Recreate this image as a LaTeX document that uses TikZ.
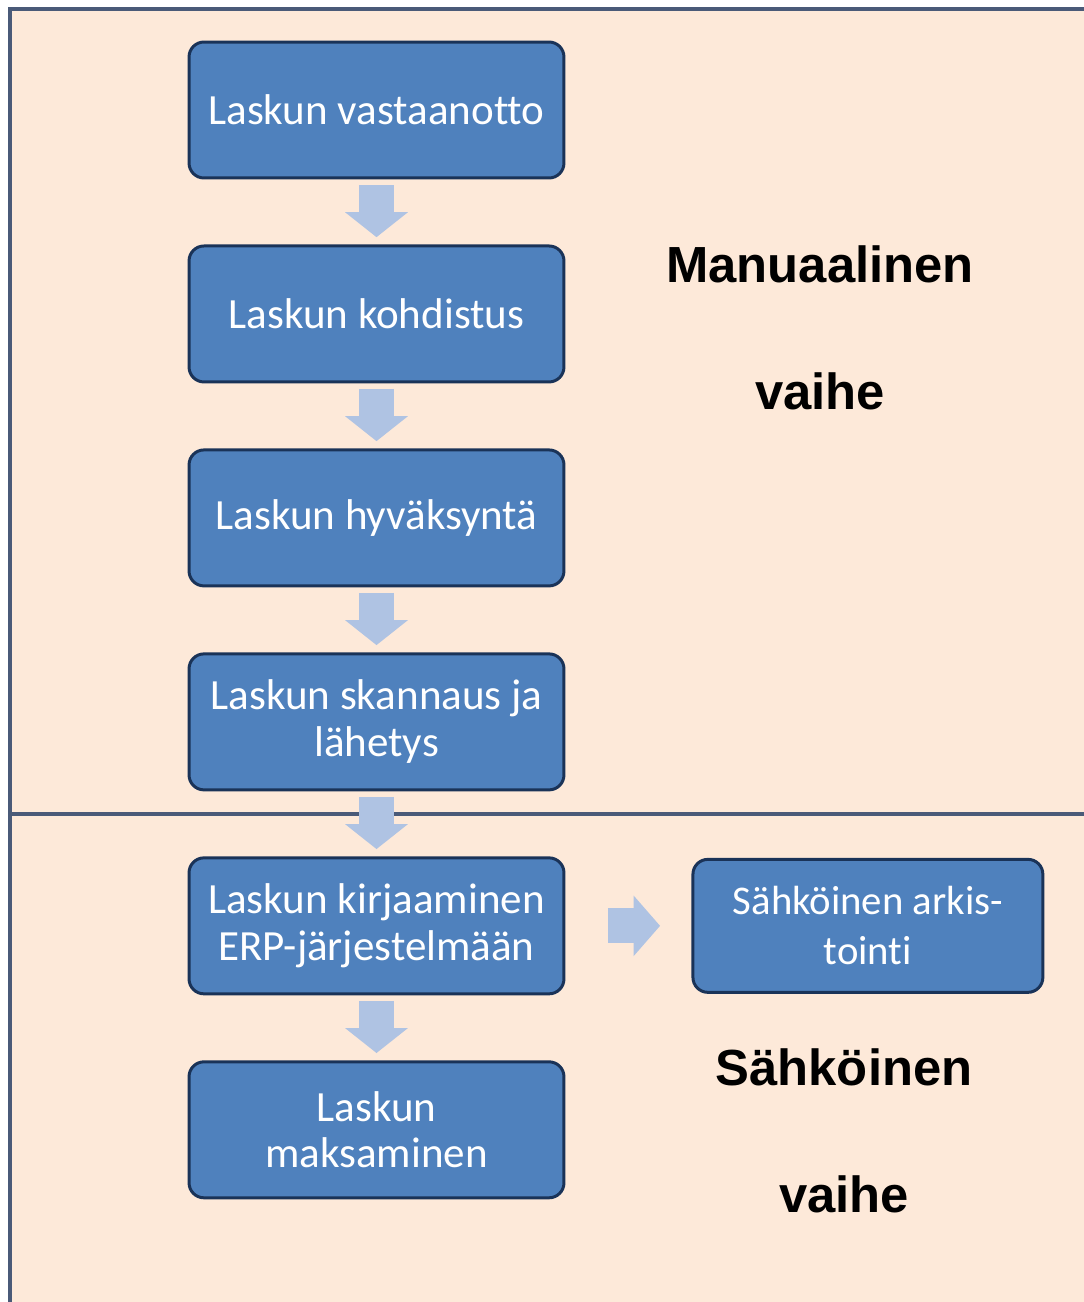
\documentclass[tikz,border=0pt]{standalone}
\usepackage{fontspec}
\setmainfont{Carlito}[Ligatures=NoCommon]
\newfontfamily\phasefont{Liberation Sans}
\usepackage{tikz}
\usetikzlibrary{positioning,arrows.meta}

\definecolor{peach}{HTML}{FDE9D9}
\definecolor{frameline}{HTML}{4A5A78}
\definecolor{boxblue}{HTML}{4F81BD}
\definecolor{boxline}{HTML}{1A3358}
\definecolor{arrowblue}{HTML}{AFC3E3}

\begin{document}
\begin{tikzpicture}[x=0.02cm,y=-0.02cm,
    stepbox/.style={draw=boxline,fill=boxblue,line width=1.7pt,rounded corners=8.5pt,
      minimum width=7.5cm,minimum height=2.72cm,align=center,text=white,
      outer sep=0pt,font=\fontsize{24.5}{26.6}\selectfont},
    flow/.style={draw=arrowblue,line width=20.4pt,
      -{Triangle[width=35pt,length=14.2pt]}},
    phase/.style={font=\phasefont\bfseries\fontsize{28.9}{72}\selectfont,align=center},
    node distance=1.36cm]
    \useasboundingbox (0,0) rectangle (1083,1302);

    % background and phase divider
    \fill[peach] (10,9) rectangle (1090,1310);
    \draw[frameline,line width=2.3pt] (10,1310) -- (10,9) -- (1090,9);
    \draw[frameline,line width=2.3pt] (10,814) -- (1090,814);

    \node[stepbox] (vastaanotto) at (376.5,110) {Laskun vastaanotto};
    \node[stepbox,below=of vastaanotto] (kohdistus) {Laskun kohdistus};
    \node[stepbox,below=of kohdistus] (hyvaksynta) {Laskun hyväksyntä};
    \node[stepbox,below=of hyvaksynta] (skannaus) {Laskun skannaus ja\\lähetys};
    \node[stepbox,below=of skannaus] (kirjaus) {Laskun kirjaaminen\\ERP-järjestelmään};
    \node[stepbox,below=of kirjaus] (maksu) {Laskun\\maksaminen};
    \node[stepbox,right=2.58cm of kirjaus,minimum width=7cm,minimum height=2.66cm,
      font=\fontsize{23.2}{28.4}\selectfont] (arkistointi) {Sähköinen arkis-\\tointi};

    \foreach \a/\b in {vastaanotto/kohdistus,kohdistus/hyvaksynta,
      hyvaksynta/skannaus,skannaus/kirjaus,kirjaus/maksu}
      \draw[flow,shorten <=4pt,shorten >=5pt] (\a) -- (\b);
    \draw[flow,line width=19.8pt,shorten <=25pt,shorten >=18.7pt,
      -{Triangle[width=33.5pt,length=15pt]}] (kirjaus) -- (arkistointi);

    \node[phase] (manuaalinen) at (820,328) {Manuaalinen\\vaihe};
    \node[phase] (sahkoinen) at (844,1131) {Sähköinen\\vaihe};
\end{tikzpicture}
\end{document}
